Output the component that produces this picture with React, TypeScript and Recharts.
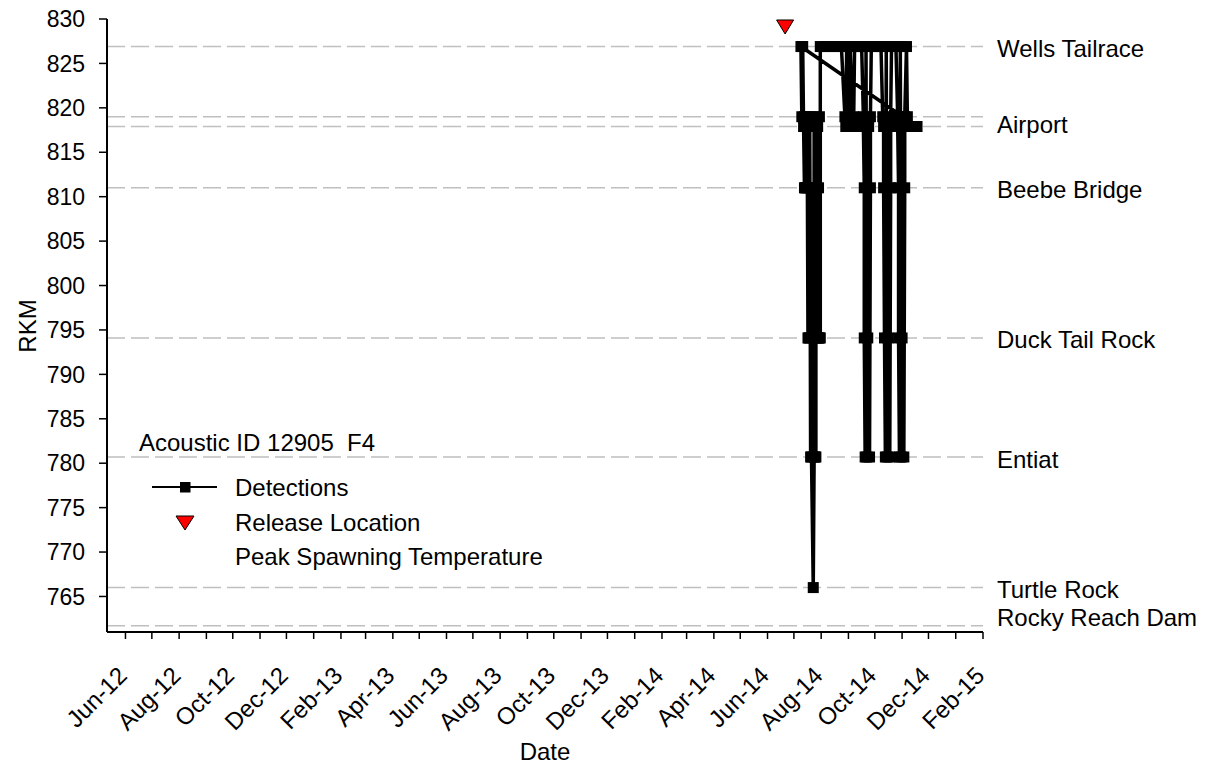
import { ComposedChart, Line, Scatter, XAxis, YAxis, ReferenceLine } from 'recharts'

// receivers along the river (dashed lines)
const siteNames = ['Wells Tailrace', '', 'Airport', 'Beebe Bridge', 'Duck Tail Rock', 'Entiat', 'Turtle Rock', 'Rocky Reach Dam']
const siteRkm = [826.9, 819.0, 817.9, 811.0, 794.1, 780.7, 766.0, 761.7]

// detections, in the order of the source sheet (last detection is listed first)
const detectionDates = [
  '2014-11-18',
  '2014-07-09', '2014-07-10', '2014-07-11', '2014-07-12', '2014-07-13', '2014-07-13', '2014-07-14',
  '2014-07-15', '2014-07-15', '2014-07-16', '2014-07-17', '2014-07-17', '2014-07-18', '2014-07-18',
  '2014-07-19', '2014-07-19', '2014-07-20', '2014-07-20', '2014-07-21', '2014-07-23', '2014-07-24',
  '2014-07-24', '2014-07-25', '2014-07-25', '2014-07-26', '2014-07-26', '2014-07-27', '2014-07-27',
  '2014-07-28', '2014-07-28', '2014-07-29', '2014-07-29', '2014-07-30', '2014-07-30', '2014-07-31',
  '2014-07-31',
  '2014-08-06', '2014-08-12', '2014-08-18', '2014-08-24', '2014-08-28', '2014-08-29', '2014-08-30',
  '2014-09-02', '2014-09-03', '2014-09-06', '2014-09-07', '2014-09-08', '2014-09-12', '2014-09-16',
  '2014-09-18', '2014-09-18', '2014-09-19', '2014-09-19', '2014-09-20', '2014-09-21', '2014-09-22',
  '2014-09-23', '2014-09-24', '2014-09-25', '2014-09-26', '2014-09-26', '2014-09-27',
  '2014-10-03', '2014-10-08', '2014-10-10', '2014-10-11', '2014-10-11', '2014-10-12', '2014-10-13',
  '2014-10-14', '2014-10-15', '2014-10-16', '2014-10-17', '2014-10-18', '2014-10-19', '2014-10-19',
  '2014-10-20', '2014-10-25', '2014-10-27', '2014-10-27', '2014-10-28', '2014-10-28', '2014-10-29',
  '2014-10-30', '2014-10-31', '2014-11-01', '2014-11-02', '2014-11-03', '2014-11-04', '2014-11-04',
  '2014-11-06', '2014-11-07', '2014-11-10', '2014-11-14',
]
const detectionRkm = [
  817.9,
  826.9, 819.0, 826.9, 817.9, 811.0, 819.0, 811.0,
  817.9, 811.0, 819.0, 794.1, 811.0, 794.1, 817.9,
  794.1, 819.0, 780.7, 811.0, 780.7, 766.0, 780.7,
  817.9, 780.7, 811.0, 780.7, 819.0, 794.1, 811.0,
  794.1, 817.9, 794.1, 811.0, 794.1, 819.0, 794.1,
  826.9,
  826.9, 826.9, 826.9, 826.9, 819.0, 817.9, 826.9,
  819.0, 826.9, 817.9, 819.0, 826.9, 826.9, 826.9,
  819.0, 817.9, 811.0, 794.1, 780.7, 826.9, 780.7,
  794.1, 817.9, 780.7, 811.0, 819.0, 826.9,
  826.9, 826.9, 819.0, 817.9, 811.0, 794.1, 780.7,
  826.9, 780.7, 794.1, 817.9, 780.7, 811.0, 819.0,
  826.9, 826.9, 819.0, 817.9, 811.0, 794.1, 780.7,
  826.9, 780.7, 794.1, 817.9, 780.7, 811.0, 819.0,
  826.9, 819.0, 817.9, 817.9,
]

const releaseDates = ['2014-06-21']
const releaseRkm = [829.1]

const yTicks = [765, 770, 775, 780, 785, 790, 795, 800, 805, 810, 815, 820, 825, 830]
const xTickLabels = ['Jun-12', 'Aug-12', 'Oct-12', 'Dec-12', 'Feb-13', 'Apr-13', 'Jun-13', 'Aug-13', 'Oct-13',
  'Dec-13', 'Feb-14', 'Apr-14', 'Jun-14', 'Aug-14', 'Oct-14', 'Dec-14', 'Feb-15']
const xStart = '2012-05-11'
const xEnd = '2015-02-01'

const legendTitle = 'Acoustic ID 12905  F4'
const legendNames = ['Detections', 'Release Location', 'Peak Spawning Temperature']

const MONTHS = ['Jan', 'Feb', 'Mar', 'Apr', 'May', 'Jun', 'Jul', 'Aug', 'Sep', 'Oct', 'Nov', 'Dec']

const toDay = (s: string) => {
  const [y, m, d] = s.split('-').map(Number)
  return Date.UTC(y, m - 1, d) / 86400000
}

// labelled months every other month, plus an unlabelled tick between them
const tickLabelByDay: Record<number, string> = {}
const xTicks: number[] = []
xTickLabels.forEach((lab, i) => {
  const [mon, yy] = lab.split('-')
  const m = MONTHS.indexOf(mon)
  const y = 2000 + Number(yy)
  const day = Date.UTC(y, m, 1) / 86400000
  tickLabelByDay[day] = lab
  xTicks.push(day)
  if (i < xTickLabels.length - 1) xTicks.push(Date.UTC(y, m + 1, 1) / 86400000)
})

const detections = detectionDates.map((d, i) => ({ day: toDay(d), rkm: detectionRkm[i] }))
const release = releaseDates.map((d, i) => ({ day: toDay(d), rkm: releaseRkm[i] }))

const FONT = '"Liberation Sans", Arial, sans-serif'

function DateTick(props: any) {
  const { x, y, payload } = props
  const label = tickLabelByDay[payload.value]
  if (!label) return null
  const tx = x + 3
  const ty = y + 36
  return (
    <text x={tx} y={ty} transform={`rotate(-45, ${tx}, ${ty})`} textAnchor="end" fontSize={24} fill="#000" fontFamily={FONT}>
      {label}
    </text>
  )
}

const squareDot = (props: any) => {
  const { cx, cy, index } = props
  return <rect key={`d${index}`} x={cx - 5.5} y={cy - 5.5} width={11} height={11} fill="#000" />
}

const triangle = (props: any) => {
  const { cx, cy } = props
  return <polygon points={`${cx - 8.5},${cy - 7} ${cx + 8.5},${cy - 7} ${cx},${cy + 7}`} fill="#FF0000" stroke="#000" strokeWidth={1} />
}

export default function App() {
  return (
    <div style={{ position: 'absolute', left: 0, top: 0, width: 1210, height: 763, background: '#fff', fontFamily: FONT }}>
      <ComposedChart width={1210} height={763} margin={{ top: 19, right: 227, bottom: 31, left: 27 }}>
        <XAxis
          dataKey="day"
          type="number"
          domain={[toDay(xStart), toDay(xEnd)]}
          ticks={xTicks}
          interval={0}
          height={100}
          tick={<DateTick />}
          tickSize={7}
          axisLine={{ stroke: '#000', strokeWidth: 2 }}
          tickLine={{ stroke: '#000', strokeWidth: 1.5 }}
          label={{
            content: () => (
              <text x={545} y={751} textAnchor="middle" dominantBaseline="central" fontSize={24} fill="#000" fontFamily={FONT}>
                Date
              </text>
            ),
          }}
        />
        <YAxis
          dataKey="rkm"
          type="number"
          domain={[761, 830]}
          ticks={yTicks}
          interval={0}
          width={80}
          tickSize={8}
          tickMargin={14}
          tick={{ fontSize: 23, fill: '#000' }}
          axisLine={{ stroke: '#000', strokeWidth: 2 }}
          tickLine={{ stroke: '#000', strokeWidth: 1.5 }}
          label={{
            content: () => (
              <text x={27} y={326} transform="rotate(-90, 27, 326)" textAnchor="middle" dominantBaseline="central" fontSize={24} fill="#000" fontFamily={FONT}>
                RKM
              </text>
            ),
          }}
        />
        {siteRkm.map((r, i) => (
          <ReferenceLine
            key={i}
            y={r}
            stroke="#BFBFBF"
            strokeWidth={1.5}
            strokeDasharray="18 6"
            label={
              siteNames[i]
                ? {
                    value: siteNames[i],
                    position: 'right',
                    offset: 14,
                    fontSize: 24,
                    fill: '#000',
                    dy: siteNames[i] === 'Rocky Reach Dam' ? -8 : siteNames[i] === 'Airport' ? -2 : 2,
                  }
                : undefined
            }
          />
        ))}
        <Line
          data={detections}
          dataKey="rkm"
          type="linear"
          stroke="#000"
          strokeWidth={3.5}
          strokeLinejoin="round"
          dot={squareDot}
          activeDot={false}
          isAnimationActive={false}
        />
        <Scatter data={release} dataKey="rkm" shape={triangle} isAnimationActive={false} />
      </ComposedChart>
      <svg width={1210} height={763} style={{ position: 'absolute', left: 0, top: 0, pointerEvents: 'none' }} fontFamily={FONT}>
        <text x={139} y={451} fontSize={24} fill="#000" style={{ whiteSpace: 'pre' }}>
          {legendTitle}
        </text>
        <line x1={152} x2={217} y1={487} y2={487} stroke="#000" strokeWidth={2} />
        <rect x={180} y={482} width={10.5} height={10.5} fill="#000" />
        <polygon points="176,516 194,516 185,530" fill="#FF0000" stroke="#000" strokeWidth={1} />
        {legendNames.map((n, i) => (
          <text key={n} x={235} y={496 + i * 34.5} fontSize={24} fill="#000">
            {n}
          </text>
        ))}
      </svg>
    </div>
  )
}
